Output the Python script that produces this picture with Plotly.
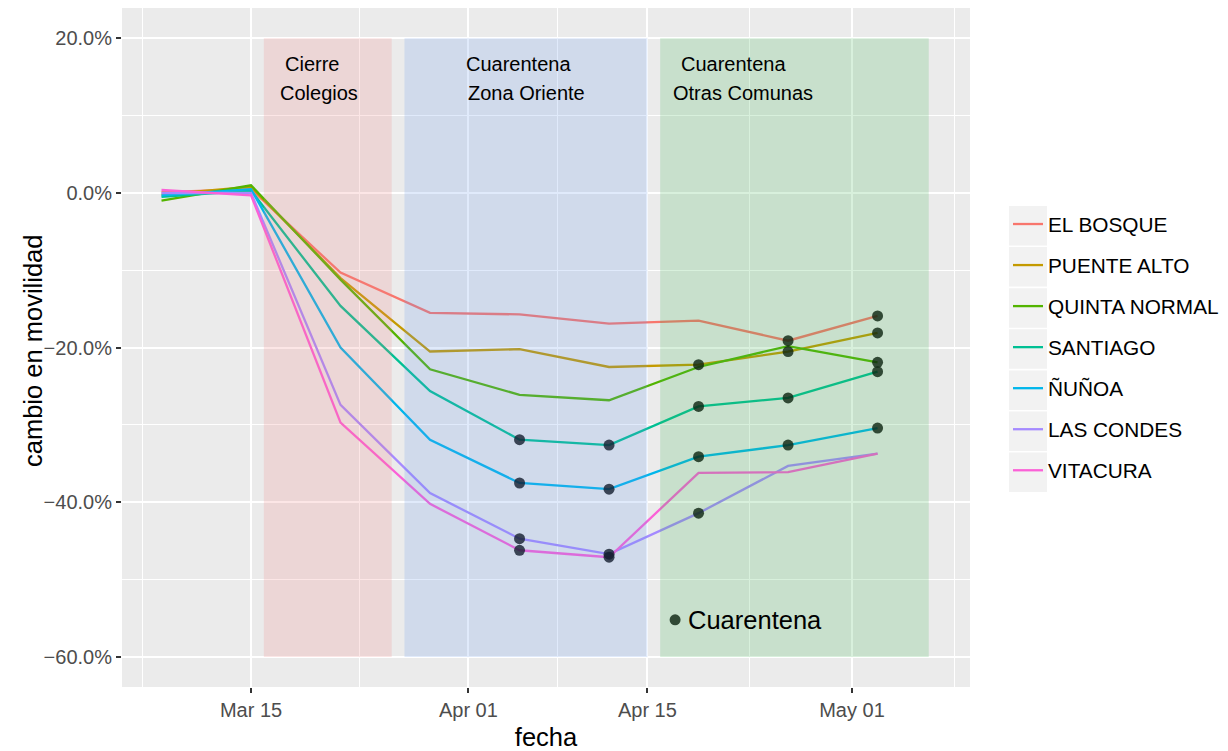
import plotly.graph_objects as go

# ---- data ----
fechas = ["2020-03-08", "2020-03-15", "2020-03-22", "2020-03-29", "2020-04-05",
          "2020-04-12", "2020-04-19", "2020-04-26", "2020-05-03"]

comunas = ["EL BOSQUE", "PUENTE ALTO", "QUINTA NORMAL", "SANTIAGO", "ÑUÑOA",
           "LAS CONDES", "VITACURA"]

# cambio en movilidad (%)
el_bosque     = [0.1, 0.5, -10.3, -15.5, -15.7, -16.9, -16.5, -19.1, -15.9]
puente_alto   = [-0.2, 0.8, -11.0, -20.5, -20.2, -22.5, -22.2, -20.5, -18.1]
quinta_normal = [-1.0, 1.0, -11.2, -22.8, -26.1, -26.8, -22.5, -19.8, -21.9]
santiago      = [-0.5, 0.3, -14.6, -25.6, -31.9, -32.6, -27.6, -26.5, -23.1]
nunoa         = [-0.3, 0.5, -20.0, -31.9, -37.5, -38.3, -34.1, -32.6, -30.4]
las_condes    = [0.0, 0.0, -27.4, -38.8, -44.7, -46.7, -41.4, -35.3, -33.7]
vitacura      = [0.4, -0.3, -29.7, -40.2, -46.2, -47.1, -36.2, -36.1, -33.7]

# en cuarentena (1 = si)
q_el_bosque     = [0, 0, 0, 0, 0, 0, 0, 1, 1]
q_puente_alto   = [0, 0, 0, 0, 0, 0, 1, 1, 1]
q_quinta_normal = [0, 0, 0, 0, 0, 0, 0, 0, 1]
q_santiago      = [0, 0, 0, 0, 1, 1, 1, 1, 1]
q_nunoa         = [0, 0, 0, 0, 1, 1, 1, 1, 1]
q_las_condes    = [0, 0, 0, 0, 1, 1, 1, 0, 0]
q_vitacura      = [0, 0, 0, 0, 1, 1, 0, 0, 0]

# periodos sombreados
periodos_inicio = ["2020-03-16", "2020-03-27", "2020-04-16"]
periodos_fin    = ["2020-03-26", "2020-04-15", "2020-05-07"]
periodos_color  = ["rgba(240,128,128,0.2)", "rgba(100,149,237,0.2)", "rgba(60,180,80,0.2)"]

x_ticks = ["2020-03-15", "2020-04-01", "2020-04-15", "2020-05-01"]
x_tick_labels = ["Mar 15", "Apr 01", "Apr 15", "May 01"]
y_ticks = [-0.6, -0.4, -0.2, 0.0, 0.2]

colores = ["#F8766D", "#C49A00", "#53B400", "#00C094", "#00B6EB", "#A58AFF", "#FB61D7"]

valores = [el_bosque, puente_alto, quinta_normal, santiago, nunoa, las_condes, vitacura]
cuarentenas = [q_el_bosque, q_puente_alto, q_quinta_normal, q_santiago, q_nunoa,
               q_las_condes, q_vitacura]

FONT = "Liberation Sans, Arial, Helvetica, sans-serif"

fig = go.Figure()

for i, (nombre, vals, col) in enumerate(zip(comunas, valores, colores)):
    fig.add_trace(go.Scatter(
        x=fechas, y=[v / 100 for v in vals], mode="lines", name=nombre,
        line=dict(color=col, width=2.3), legendgroup=nombre,
    ))

for nombre, vals, q in zip(comunas, valores, cuarentenas):
    xs = [f for f, flag in zip(fechas, q) if flag]
    ys = [v / 100 for v, flag in zip(vals, q) if flag]
    fig.add_trace(go.Scatter(
        x=xs, y=ys, mode="markers", showlegend=False,
        marker=dict(color="rgba(0,0,0,0.8)", size=11, line=dict(width=0)),
    ))

# key "Cuarentena"
key_x = "2020-04-17 04:00"
key_y = -0.552
fig.add_trace(go.Scatter(
    x=[key_x], y=[key_y], mode="markers", showlegend=False,
    marker=dict(color="rgba(0,0,0,0.8)", size=11, line=dict(width=0)),
))
fig.add_annotation(x="2020-04-18 00:00", y=key_y, text="Cuarentena", showarrow=False,
                   xanchor="left", yanchor="middle",
                   font=dict(family=FONT, size=25.5, color="black"))

shapes = []
for x0, x1, c in zip(periodos_inicio, periodos_fin, periodos_color):
    shapes.append(dict(type="rect", xref="x", yref="y", x0=x0, x1=x1, y0=-0.6, y1=0.2,
                       fillcolor=c, line=dict(width=0), layer="above"))

# legend key backgrounds
for i in range(len(comunas)):
    top = 206 + 41.1 * i
    shapes.append(dict(type="rect", xref="paper", yref="paper",
                       x0=(1009 - 122) / 848, x1=(1047 - 122) / 848,
                       y0=(687 - (top + 39.5)) / 679, y1=(687 - top) / 679,
                       fillcolor="#F2F2F2", line=dict(width=0), layer="below"))

fig.update_layout(shapes=shapes)

# period labels
labels = [
    ("Cierre", "2020-03-19 18:30", 0.1668),
    ("Colegios", "2020-03-20 06:40", 0.1293),
    ("Cuarentena", "2020-04-04 22:00", 0.1668),
    ("Zona Oriente", "2020-04-05 13:00", 0.1293),
    ("Cuarentena", "2020-04-21 18:00", 0.1668),
    ("Otras Comunas", "2020-04-22 12:00", 0.1293),
]
for t, x, y in labels:
    fig.add_annotation(x=x, y=y, text=t, showarrow=False, xanchor="center", yanchor="middle",
                       font=dict(family=FONT, size=20, color="black"))

# y-axis title
fig.add_annotation(x=(33 - 122) / 848, y=(687 - 351) / 679, xref="paper", yref="paper",
                   text="cambio en movilidad", textangle=-90, showarrow=False,
                   xanchor="center", yanchor="middle",
                   font=dict(family=FONT, size=25.5, color="black"))

# the page body adds an 8px offset, so the figure is 8px smaller
fig.update_layout(
    width=1220, height=743,
    margin=dict(l=114, r=258, t=0, b=64, autoexpand=False),
    paper_bgcolor="white", plot_bgcolor="#EBEBEB",
    font=dict(family=FONT, color="black"),
    showlegend=True,
    legend=dict(x=(1008 - 122) / 848, y=(687 - 204) / 679, xanchor="left", yanchor="top",
                bgcolor="rgba(0,0,0,0)", font=dict(family=FONT, size=20.8, color="black"),
                tracegroupgap=11.0, itemwidth=30),
    xaxis=dict(
        type="date", range=["2020-03-04 21:50", "2020-05-10 05:30"],
        tickmode="array", tickvals=x_ticks, ticktext=x_tick_labels,
        showgrid=True, gridcolor="white", gridwidth=1.8,
        minor=dict(tickmode="array",
                   tickvals=["2020-03-06 12:00", "2020-03-23 12:00", "2020-04-08",
                             "2020-04-23", "2020-05-09"],
                   showgrid=True, gridcolor="white", gridwidth=0.9, ticks=""),
        ticks="outside", ticklen=5, tickwidth=1.5, tickcolor="#333333",
        tickfont=dict(family=FONT, size=20, color="#4D4D4D"),
        showline=False, zeroline=False, automargin=True,
        title=dict(text="fecha", font=dict(family=FONT, size=25.5, color="black"), standoff=9),
    ),
    yaxis=dict(
        range=[-0.6388, 0.2392],
        tickmode="array", tickvals=y_ticks, tickformat=".1%",
        showgrid=True, gridcolor="white", gridwidth=1.8,
        minor=dict(tickmode="array", tickvals=[-0.5, -0.3, -0.1, 0.1],
                   showgrid=True, gridcolor="white", gridwidth=0.9, ticks=""),
        ticks="outside", ticklen=5, tickwidth=1.5, tickcolor="#333333",
        tickfont=dict(family=FONT, size=20, color="#4D4D4D"),
        showline=False, zeroline=False, automargin=True,
    ),
)

fig.write_html("out.html")
